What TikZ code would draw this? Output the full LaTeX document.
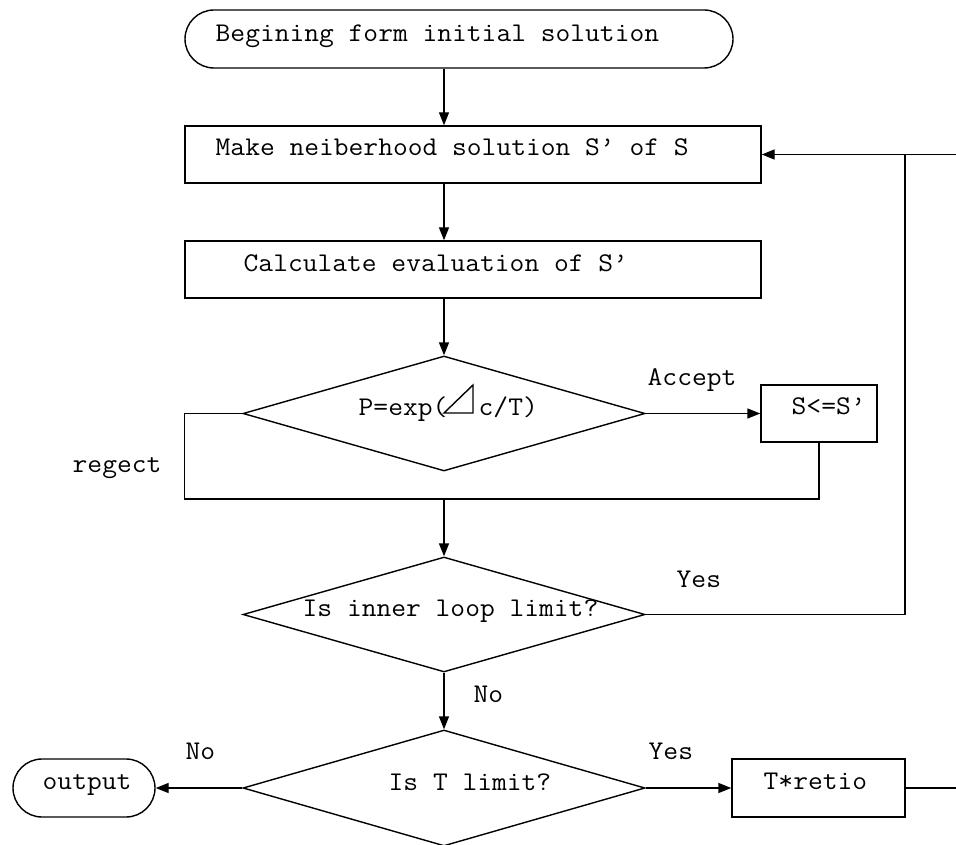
\documentclass[tikz,border=0pt]{standalone}
\usepackage{fontspec}
\setmonofont{Latin Modern Mono}[FakeStretch=1.063]
\usetikzlibrary{shapes.geometric,arrows.meta}
\begin{document}
\begin{tikzpicture}[x=1pt,y=-1pt, line width=1.4pt,
  box/.style={draw, rectangle, inner sep=0pt},
  term/.style={draw, rectangle, rounded corners=29pt, inner sep=0pt},
  dia/.style={draw, diamond, inner sep=0pt},
  txt/.style={inner sep=0pt, anchor=west, text height=15pt, text depth=0pt, font=\ttfamily\fontsize{27}{32}\selectfont},
  arr/.style={-{Triangle[length=13pt,width=10pt]}}]
\useasboundingbox (0,0) rectangle (956,845);

% shapes
\node[term, minimum width=548pt, minimum height=58pt] (start) at (459,39) {};
\node[box, minimum width=576pt, minimum height=57pt] (b1) at (473,154.5) {};
\node[box, minimum width=576pt, minimum height=57pt] (b2) at (473,269.5) {};
\node[dia, minimum width=402pt, minimum height=115pt] (d1) at (444,413.5) {};
\node[box, minimum width=116pt, minimum height=57pt] (sb) at (819,413.5) {};
\node[dia, minimum width=402pt, minimum height=115pt] (d2) at (444,614.5) {};
\node[dia, minimum width=402pt, minimum height=116pt] (d3) at (444,788) {};
\node[term, minimum width=142pt, minimum height=58pt] (out) at (84,788) {};
\node[box, minimum width=173pt, minimum height=58pt] (tr) at (818.5,788) {};

% texts
\node[txt] (t0) at (215,34) {Begining form initial solution};
\node[txt] (t1) at (215,148) {Make neiberhood solution S’ of S};
\node[txt] (t2) at (243,264) {Calculate evaluation of S’};
\node[txt] (t3a) at (358,408) {P=exp(};
\node[txt] (t3b) at (478,408) {c/T)};
\draw (444,413) -- (473,385) -- (473,413) -- cycle;
\node[txt] (acc) at (647,378) {Accept};
\node[txt] (t4) at (791,407) {S<=S’};
\node[txt] (rej) at (72,465) {regect};
\node[txt] (t5) at (302,609) {Is inner loop limit?};
\node[txt] (yes1) at (676,580) {Yes};
\node[txt] (no1) at (473,695) {No};
\node[txt] (t6) at (388,783) {Is T limit?};
\node[txt] (no2) at (185,752) {No};
\node[txt] (yes2) at (648,752) {Yes};
\node[txt] (t7) at (42,782) {output};
\node[txt] (t8) at (763,782) {T*retio};

% coordinates
\coordinate (jn) at (444,499);
\coordinate (loopx) at (905,154.5);
\coordinate (edgeT) at (956,154.5);
\coordinate (edgeB) at (956,788);

% connectors
\draw[arr] (start.south -| d1.north) -- (b1.north -| d1.north);
\draw[arr] (b1.south -| d1.north) -- (b2.north -| d1.north);
\draw[arr] (b2.south -| d1.north) -- (d1.north);
\draw[arr] (d1.east) -- (sb.west);
\draw (d1.west) -- (d1.west -| b2.west) |- (jn) -| (sb.south);
\draw[arr] (jn) -- (d2.north);
\draw (d2.east) -| (loopx);
\draw[arr] (edgeT) -- (b1.east);
\draw[arr] (d2.south) -- (d3.north);
\draw[arr] (d3.west) -- (out.east);
\draw[arr] (d3.east) -- (tr.west);
\draw (tr.east) -- (edgeB);
\end{tikzpicture}
\end{document}
